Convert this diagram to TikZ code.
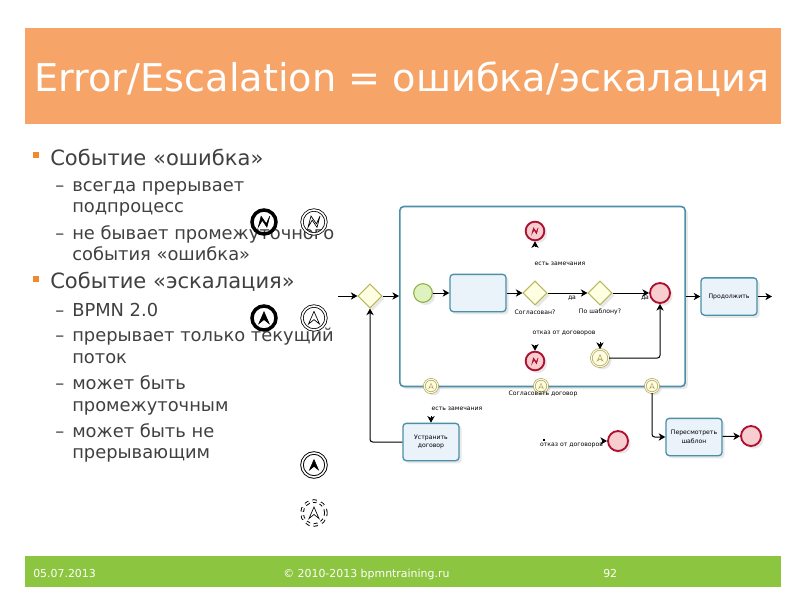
\documentclass[tikz,border=0pt]{standalone}
\usepackage{fontspec}
\setmainfont{DejaVu Sans}
\usetikzlibrary{shapes.geometric,shadows,arrows.meta}
\definecolor{headfill}{HTML}{F7A468}
\definecolor{footfill}{HTML}{8CC540}
\definecolor{bodytext}{HTML}{404040}
\definecolor{bulletcol}{HTML}{F08A30}
\definecolor{taskline}{HTML}{4C8FA8}
\definecolor{taskfill}{HTML}{EAF2FA}
\definecolor{gateline}{HTML}{B9B75E}
\definecolor{gatefill}{HTML}{FFFFE2}
\definecolor{startline}{HTML}{8FB03E}
\definecolor{startfill}{HTML}{DDF2BE}
\definecolor{endline}{HTML}{B01030}
\definecolor{endfill}{HTML}{F8CDD0}
\definecolor{escline}{HTML}{A8A458}
\definecolor{escfill}{HTML}{FFFBE0}
\tikzset{
  shade/.style={drop shadow={opacity=.18,shadow xshift=2pt,shadow yshift=-2pt}},
  lvlone/.style={anchor=base west,inner sep=0,text=bodytext,font=\fontsize{15.8}{18}\selectfont},
  lvltwo/.style={anchor=base west,inner sep=0,text=bodytext,font=\fontsize{13.4}{16}\selectfont},
  foottext/.style={anchor=base west,inner sep=0,text=white,font=\fontsize{8.2}{10}\selectfont},
  small/.style={inner sep=0,align=center,font=\fontsize{4.6}{6.5}\selectfont},
  task/.style={draw=taskline,line width=1pt,fill=taskfill,rounded corners=2.5pt,minimum width=42pt,minimum height=28pt,shade,small},
  gate/.style={diamond,draw=gateline,line width=.8pt,fill=gatefill,minimum size=18pt,inner sep=0,shade},
  startev/.style={circle,draw=startline,line width=.8pt,fill=startfill,minimum size=14pt,inner sep=0,shade},
  endev/.style={circle,draw=endline,line width=1.4pt,fill=endfill,minimum size=15pt,inner sep=0,shade},
  errev/.style={circle,draw=endline,line width=1.4pt,fill=endfill,minimum size=14pt,inner sep=0,shade},
  escev/.style={circle,draw=escline,double=escfill,double distance=.8pt,line width=.5pt,fill=escfill,minimum size=13pt,inner sep=0,shade},
  boldicon/.style={circle,draw=black,line width=2.6pt,minimum size=18pt,inner sep=0},
  dblicon/.style={circle,draw=black,double=white,double distance=1.2pt,line width=.6pt,minimum size=18pt,inner sep=0},
  flow/.style={-{Stealth[length=5pt,width=5.5pt,inset=1.5pt]},line width=.75pt,rounded corners=2pt},
  errmark/.pic={\draw[pic actions] (-5,4.5) -- (-2.5,-5) -- (2,1.5) -- (5,-5) -- (2.5,4.5) -- (-1.5,-1.5) -- cycle;},
  escmark/.pic={\draw[pic actions] (0,-6) -- (5,5.5) -- (0,1.5) -- (-5,5.5) -- cycle;}
}
\begin{document}
\begin{tikzpicture}[x=.75pt,y=-.75pt]
\useasboundingbox (0,0) rectangle (800,600);
% slide frame
\node[fill=headfill,minimum width=567pt,minimum height=72pt,inner sep=0] (head) at (403,76){};
\node[anchor=base west,inner sep=0,text=white,font=\fontsize{28.7}{32}\selectfont] (title) at (34,91){Error/Escalation = ошибка/эскалация};
\node[fill=footfill,minimum width=567pt,minimum height=23pt,inner sep=0] (foot) at (403,571.5){};
\node[foottext] (fdate) at (33,577){05.07.2013};
\node[foottext] (fcopy) at (283,577){© 2010-2013 bpmntraining.ru};
\node[foottext] (fpage) at (603,577){92};
% bullets
\node[fill=bulletcol,minimum size=4pt,inner sep=0] (bul1) at (36,155){};
\node[fill=bulletcol,minimum size=4pt,inner sep=0] (bul2) at (36,279){};
\node[lvlone] (t1) at (50,165){Событие «ошибка»};
\node[lvltwo] (d1) at (55,191){–};
\node[lvltwo] (t2) at (72,191){всегда прерывает};
\node[lvltwo] (t3) at (72,212){подпроцесс};
\node[lvltwo] (d2) at (55,239){–};
\node[lvltwo] (t4) at (72,239){не бывает промежуточного};
\node[lvltwo] (t5) at (72,260){события «ошибка»};
\node[lvlone] (t6) at (50,288){Событие «эскалация»};
\node[lvltwo] (d3) at (55,316){–};
\node[lvltwo] (t7) at (72,316){BPMN 2.0};
\node[lvltwo] (d4) at (55,341){–};
\node[lvltwo] (t8) at (72,341){прерывает только текущий};
\node[lvltwo] (t9) at (72,363){поток};
\node[lvltwo] (d5) at (55,389){–};
\node[lvltwo] (t10) at (72,389){может быть};
\node[lvltwo] (t11) at (72,411){промежуточным};
\node[lvltwo] (d6) at (55,437){–};
\node[lvltwo] (t12) at (72,437){может быть не};
\node[lvltwo] (t13) at (72,458){прерывающим};
% legend icons
\node[boldicon] (ic1) at (264,222){};
\pic[fill=black,scale=1.15] at (ic1) {errmark};
\node[dblicon] (ic2) at (314,222){};
\pic[line width=.5pt,scale=1.2] at (ic2) {errmark};
\node[boldicon] (ic3) at (264,318){};
\pic[fill=black,scale=1.05] at (ic3) {escmark};
\node[dblicon] (ic4) at (314,318){};
\pic[line width=.5pt,scale=1.1] at (ic4) {escmark};
\node[circle,draw=black,double=white,double distance=1.2pt,line width=.7pt,minimum size=18pt,inner sep=0] (ic5) at (314,465){};
\pic[fill=black,scale=.9] at (ic5) {escmark};
\node[circle,draw=black,double=white,double distance=1.2pt,line width=.7pt,dashed,minimum size=18pt,inner sep=0] (ic6) at (314,513){};
\pic[line width=.5pt,scale=1] at (ic6) {escmark};
% process
\node[draw=taskline,line width=1.2pt,fill=white,rounded corners=3pt,minimum width=214pt,minimum height=135pt,inner sep=0,shade] (sub) at (542.5,296.5){};
\node[gate] (gw1) at (370,296){};
\coordinate (in1) at (338,296);
\node[startev] (st) at (423,293){};
\node[task] (chk) at (478,293){};
\node[gate] (gw2) at (535,293){};
\node[gate] (gw3) at (600,293){};
\node[endev] (en1) at (660,293){};
\node[errev] (er1) at (535,231){};
\pic[draw=endline,fill=endline,scale=.62] at (er1) {errmark};
\coordinate (er1a) at (535,247);
\node[errev] (er2) at (535,361){};
\pic[draw=endline,fill=endline,scale=.62] at (er2) {errmark};
\coordinate (er2a) at (535,345);
\node[escev] (es1) at (600,358){};
\pic[draw=escline,line width=.4pt,scale=.55] at (es1) {escmark};
\coordinate (es1a) at (600,342);
\node[small] (l1) at (560,264){есть замечания};
\node[small] (l2) at (535,312){Согласован?};
\node[small] (l3) at (572,298){да};
\node[small] (l4) at (600,312){По шаблону?};
\node[small] (l5) at (645,298){да};
\node[small] (l6) at (564,333){отказ от договоров};
\node[escev,minimum size=10pt] (bd1) at (431,386){};
\pic[draw=escline,line width=.3pt,scale=.45] at (bd1) {escmark};
\node[escev,minimum size=10pt] (bd2) at (541,386){};
\pic[draw=escline,line width=.3pt,scale=.45] at (bd2) {escmark};
\node[escev,minimum size=10pt] (bd3) at (652,386){};
\pic[draw=escline,line width=.3pt,scale=.45] at (bd3) {escmark};
\node[small] (l7) at (543,394){Согласовать договор};
\node[task] (nxt) at (729,296.5){Продолжить};
\coordinate (out1) at (772,296.5);
\node[task,text width=38pt] (fix) at (431,442){Устранить\\договор};
\node[small] (l8) at (457,409){есть замечания};
\coordinate (fixa) at (431,416);
\node[small] (l9) at (571.5,445){отказ от договоров};
\coordinate (en2a) at (602,441);
\node[endev] (en2) at (618,441){};
\node[fill=black,minimum size=.8pt,inner sep=0] (dot) at (544,440){};
\node[task,text width=38pt] (rev) at (694,437){Пересмотреть\\шаблон};
\node[endev] (en3) at (751,436){};
\draw[flow](in1) -- (gw1);
\draw[flow](gw1) -- (sub.west |- gw1);
\draw[flow](st) -- (chk);
\draw[flow](chk) -- (gw2);
\draw[flow](gw2) -- (gw3);
\draw[flow](gw3) -- (en1);
\draw[flow](es1) -| (en1);
\draw[flow](sub.east |- nxt) -- (nxt);
\draw[flow](nxt) -- (out1);
\draw[flow](fix.west) -| (gw1);
\draw[flow](bd3) |- (rev);
\draw[flow](rev) -- (en3);
\draw[flow](en2a) -- (en2);
\draw[flow](er1a) -- (er1);
\draw[flow](er2a) -- (er2);
\draw[flow](es1a) -- (es1);
\draw[flow](fixa) -- (fix);
\end{tikzpicture}
\end{document}
